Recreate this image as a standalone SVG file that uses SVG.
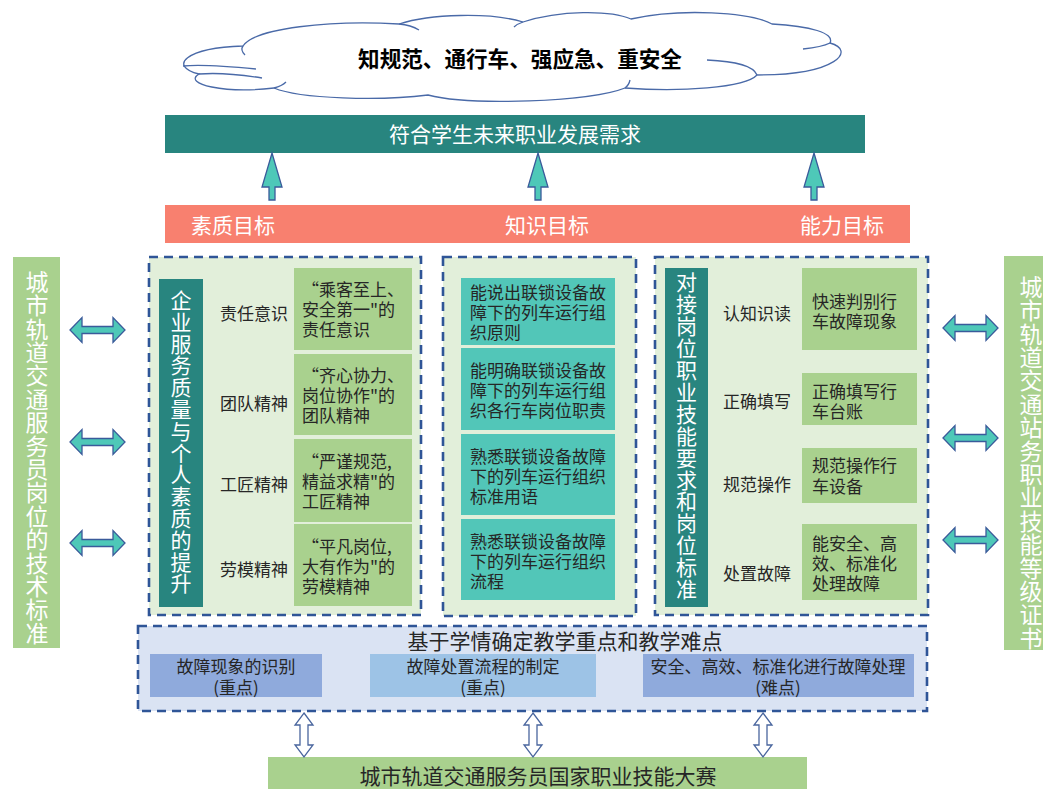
<svg xmlns="http://www.w3.org/2000/svg" width="1043" height="789" viewBox="0 0 1043 789">
<style>
text{font-family:"Noto Sans CJK SC","Noto Sans",sans-serif;dominant-baseline:central}
.v{writing-mode:vertical-rl;text-orientation:upright}
.w{fill:#fff}
.d{fill:#262626}
.c{text-anchor:middle}
.f17{font-size:17px}
.f21{font-size:21px}
.f22{font-size:22px}
.f23{font-size:23px}
.panel{fill:#E2EFDA;stroke:#2F5597;stroke-width:2.6;stroke-dasharray:9 6}
.panelb{fill:#DAE3F3;stroke:#2F5597;stroke-width:2.6;stroke-dasharray:9 6}
.gbox{fill:#A9D18E}
.tbox{fill:#52C6B8}
.dark{fill:#28857F}
.arr{fill:#4EC8B8;stroke:#3A5A9A;stroke-width:1.3;stroke-linejoin:miter}
.harr{fill:#fff;stroke:#4A669E;stroke-width:1.3}
.cl{fill:none;stroke:#4A6AA8;stroke-width:1.3}
</style>
<defs>
<path id="up" d="M0,0 L10,34 L3,34 L3,47 L-3,47 L-3,34 L-10,34 Z"/>
<path id="lr" d="M-27.5,0 L-15.5,-12.5 L-15.5,-3.5 L15.5,-3.5 L15.5,-12.5 L27.5,0 L15.5,12.5 L15.5,3.5 L-15.5,3.5 L-15.5,12.5 Z"/>
<path id="ud" d="M0,-22 L9,-10 L4,-10 L4,10 L9,10 L0,22 L-9,10 L-4,10 L-4,-10 L-9,-10 Z"/>
</defs>
<rect width="1043" height="789" fill="#fff"/>

<g id="cloud">
<path d="M243,46 C255,28 330,20 399,24 C430,14 490,12 523,22 C560,10 610,10 631,19 C680,8 750,12 772,24 C810,26 835,33 830,43 C856,50 838,75 757,75 C745,88 680,92 625,88 C590,102 470,106 428,95 C380,101 300,99 274,88 C225,94 182,84 199,74 C168,66 185,48 243,46 Z" fill="#fff" stroke="#4A6AA8" stroke-width="1.3"/>
<path class="cl" d="M183,66 Q205,64 256,69"/>
<path class="cl" d="M199,74 Q225,72 262,78"/>
<path class="cl" d="M243,46 q-3,4 2,9"/>
<path class="cl" d="M399,24 q12,1 20,6"/>
<path class="cl" d="M523,22 q-6,2 -9,5"/>
<path class="cl" d="M707,60 Q752,62 757,75"/>
<path class="cl" d="M803,49 Q822,47 830,43"/>
<path class="cl" d="M625,88 q4,-3 5,-8"/>
<path class="cl" d="M274,88 q8,-2 12,-6"/>
<text x="520" y="57" class="c" font-size="21.6" font-weight="bold" fill="#000">知规范、通行车、强应急、重安全</text>
</g>

<g id="banner">
<rect x="165" y="115" width="700" height="38" class="dark"/>
<text x="515" y="133" class="c w f21">符合学生未来职业发展需求</text>
</g>

<g id="goals">
<rect x="165" y="205" width="745" height="38" fill="#F8806F"/>
<text x="233" y="224" class="c w f21">素质目标</text>
<text x="547" y="224" class="c w f21">知识目标</text>
<text x="842" y="224" class="c w f21">能力目标</text>
</g>

<g id="left-standard">
<rect x="13" y="257" width="47" height="391" class="gbox"/>
<text x="37" y="270.5" class="v w f23" letter-spacing="0.4">城市轨道交通服务员岗位的技术标准</text>
</g>

<g id="right-cert">
<rect x="1004" y="256" width="39" height="394" class="gbox"/>
<text x="1031" y="275.5" class="v w f23" letter-spacing="0.4">城市轨道交通站务职业技能等级证书</text>
</g>

<g id="quality-panel">
<rect x="149" y="257" width="272" height="358" class="panel"/>
<rect x="159" y="279" width="44" height="328" class="dark"/>
<text x="181" y="289.5" class="v w f21" letter-spacing="0.8">企业服务质量与个人素质的提升</text>
<text x="220" y="312" class="d f17">责任意识</text>
<text x="220" y="402" class="d f17">团队精神</text>
<text x="220" y="483" class="d f17">工匠精神</text>
<text x="220" y="568" class="d f17">劳模精神</text>
<rect x="294" y="268" width="118" height="82" class="gbox"/>
<rect x="294" y="354" width="118" height="81" class="gbox"/>
<rect x="294" y="439" width="118" height="83" class="gbox"/>
<rect x="294" y="524" width="118" height="82" class="gbox"/>
<text class="d f17"><tspan x="302" y="288">“乘客至上、</tspan><tspan x="302" y="308">安全第一"的</tspan><tspan x="302" y="328">责任意识</tspan></text>
<text class="d f17"><tspan x="302" y="374">“齐心协力、</tspan><tspan x="302" y="394">岗位协作"的</tspan><tspan x="302" y="414">团队精神</tspan></text>
<text class="d f17"><tspan x="302" y="460">“严谨规范,</tspan><tspan x="302" y="480">精益求精"的</tspan><tspan x="302" y="500">工匠精神</tspan></text>
<text class="d f17"><tspan x="302" y="545">“平凡岗位,</tspan><tspan x="302" y="565">大有作为"的</tspan><tspan x="302" y="585">劳模精神</tspan></text>
</g>

<g id="knowledge-panel">
<rect x="443" y="257" width="193" height="359" class="panel"/>
<rect x="461" y="278" width="154" height="67" class="tbox"/>
<rect x="461" y="348" width="154" height="82" class="tbox"/>
<rect x="461" y="434" width="154" height="81" class="tbox"/>
<rect x="461" y="519" width="154" height="81" class="tbox"/>
<text class="d f17"><tspan x="470" y="291">能说出联锁设备故</tspan><tspan x="470" y="311">障下的列车运行组</tspan><tspan x="470" y="331">织原则</tspan></text>
<text class="d f17"><tspan x="470" y="369">能明确联锁设备故</tspan><tspan x="470" y="389">障下的列车运行组</tspan><tspan x="470" y="409">织各行车岗位职责</tspan></text>
<text class="d f17"><tspan x="470" y="455">熟悉联锁设备故障</tspan><tspan x="470" y="475">下的列车运行组织</tspan><tspan x="470" y="495">标准用语</tspan></text>
<text class="d f17"><tspan x="470" y="540">熟悉联锁设备故障</tspan><tspan x="470" y="560">下的列车运行组织</tspan><tspan x="470" y="580">流程</tspan></text>
</g>

<g id="skill-panel">
<rect x="655" y="257" width="273" height="358" class="panel"/>
<rect x="665" y="268" width="43" height="339" class="dark"/>
<text x="686.5" y="272" class="v w f21" letter-spacing="0.9">对接岗位职业技能要求和岗位标准</text>
<text x="723" y="312" class="d f17">认知识读</text>
<text x="723" y="400" class="d f17">正确填写</text>
<text x="723" y="483" class="d f17">规范操作</text>
<text x="723" y="572" class="d f17">处置故障</text>
<rect x="802" y="268" width="115" height="82" class="gbox"/>
<rect x="802" y="373" width="115" height="52" class="gbox"/>
<rect x="802" y="448" width="115" height="55" class="gbox"/>
<rect x="802" y="524" width="115" height="76" class="gbox"/>
<text class="d f17"><tspan x="812" y="300">快速判别行</tspan><tspan x="812" y="320">车故障现象</tspan></text>
<text class="d f17"><tspan x="812" y="390">正确填写行</tspan><tspan x="812" y="410">车台账</tspan></text>
<text class="d f17"><tspan x="812" y="464">规范操作行</tspan><tspan x="812" y="485">车设备</tspan></text>
<text class="d f17"><tspan x="812" y="542">能安全、高</tspan><tspan x="812" y="562">效、标准化</tspan><tspan x="812" y="582">处理故障</tspan></text>
</g>

<g id="focus-panel">
<rect x="138" y="626" width="789" height="85" class="panelb"/>
<text x="565" y="640" class="c d f21">基于学情确定教学重点和教学难点</text>
<rect x="150" y="654" width="172" height="43" fill="#8FAADC"/>
<rect x="370" y="654" width="226" height="43" fill="#9DC3E6"/>
<rect x="643" y="654" width="271" height="43" fill="#8FAADC"/>
<text class="c d f17"><tspan x="236" y="665">故障现象的识别</tspan><tspan x="236" y="686">(重点)</tspan></text>
<text class="c d f17"><tspan x="483" y="665">故障处置流程的制定</tspan><tspan x="483" y="686">(重点)</tspan></text>
<text class="c d f17"><tspan x="778" y="665">安全、高效、标准化进行故障处理</tspan><tspan x="778" y="686">(难点)</tspan></text>
</g>

<g id="contest">
<rect x="268" y="757" width="539" height="32" class="gbox"/>
<text x="538" y="775" class="c d f21">城市轨道交通服务员国家职业技能大赛</text>
</g>

<g id="connectors">
<use href="#up" x="272" y="153" class="arr"/>
<use href="#up" x="538" y="153" class="arr"/>
<use href="#up" x="814" y="153" class="arr"/>
<use href="#lr" x="97.5" y="330" class="arr"/>
<use href="#lr" x="97.5" y="442" class="arr"/>
<use href="#lr" x="97.5" y="543" class="arr"/>
<use href="#lr" x="970.5" y="328" class="arr"/>
<use href="#lr" x="970.5" y="438" class="arr"/>
<use href="#lr" x="970.5" y="540" class="arr"/>
<use href="#ud" x="304" y="735" class="harr"/>
<use href="#ud" x="533" y="735" class="harr"/>
<use href="#ud" x="763" y="735" class="harr"/>
</g>
</svg>
